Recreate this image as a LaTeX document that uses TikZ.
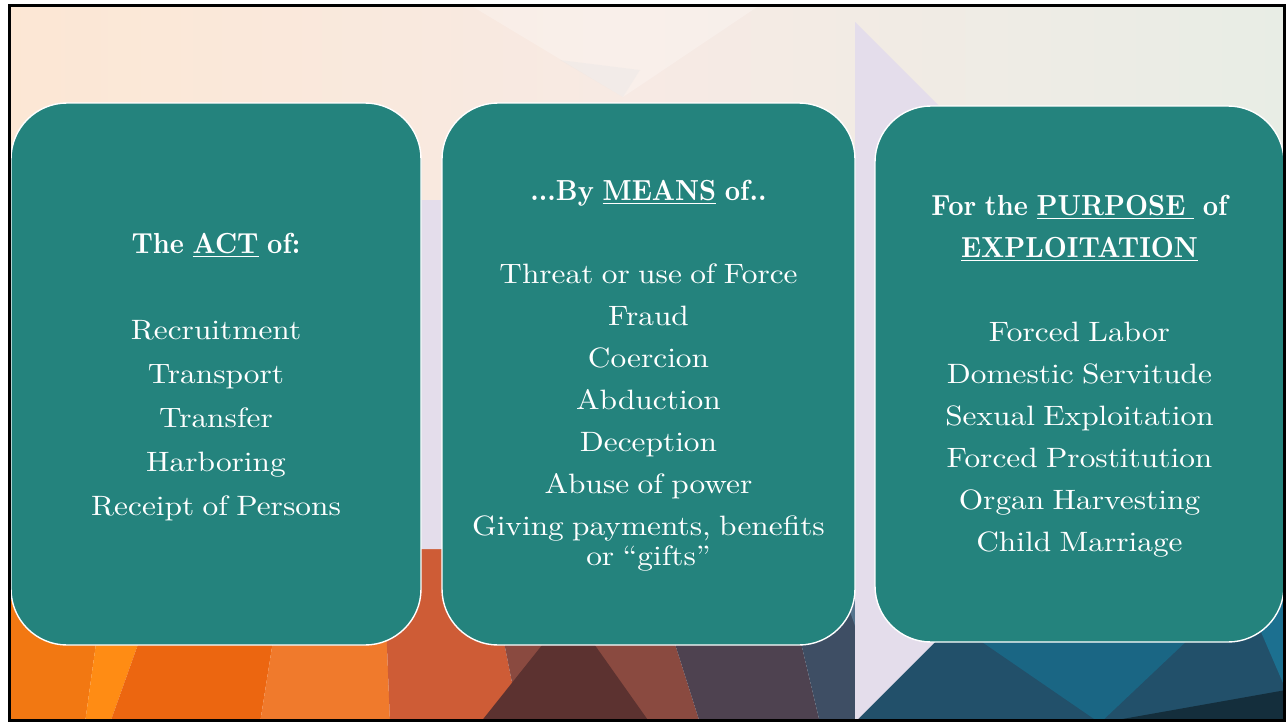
\documentclass[tikz,border=0pt]{standalone}
\usepackage{fontspec}
\newfontfamily\itemfont{lmroman10-regular.otf}[FakeStretch=1.12, WordSpace=0.8]
\newfontfamily\headfont{lmroman10-bold.otf}[FakeStretch=0.92, WordSpace=0.85]
\usetikzlibrary{positioning}

\definecolor{tealbox}{RGB}{36,131,125}
\definecolor{lavender}{RGB}{228,221,235}
\definecolor{peachA}{RGB}{252,231,212}
\definecolor{pinkA}{RGB}{247,234,228}
\definecolor{greyA}{RGB}{232,237,229}
\definecolor{orangeA}{RGB}{242,120,18}
\definecolor{orangeB}{RGB}{255,140,20}
\definecolor{orangeC}{RGB}{236,102,16}
\definecolor{orangeD}{RGB}{240,122,44}
\definecolor{rustA}{RGB}{206,92,54}
\definecolor{rustB}{RGB}{138,74,64}
\definecolor{brownA}{RGB}{92,50,48}
\definecolor{slateA}{RGB}{78,66,80}
\definecolor{slateB}{RGB}{62,78,100}
\definecolor{slateC}{RGB}{86,116,142}
\definecolor{navyA}{RGB}{34,80,106}
\definecolor{navyB}{RGB}{26,102,132}
\definecolor{navyC}{RGB}{20,46,60}
\definecolor{navyD}{RGB}{28,112,144}

\newcommand\uword[1]{\setbox0=\hbox{#1}\rlap{\rule[-4pt]{\wd0}{1.5pt}}\box0\relax}

\tikzset{
  stagebox/.style={draw=white, line width=1.4pt, fill=tealbox, rounded corners=56pt, inner sep=0pt},
  headtext/.style={text=white, anchor=base, inner sep=0pt, font=\headfont\fontsize{29}{34}\selectfont},
  itemtext/.style={text=white, anchor=base, inner sep=0pt, font=\itemfont\fontsize{28}{34}\selectfont},
}

\begin{document}
\begin{tikzpicture}[x=1pt, y=-1pt]
  \useasboundingbox (0,0) rectangle (1286,723);
  \fill[white] (0,0) rectangle (1286,723);

  % background
  \begin{scope}
    \clip (9.5,5.5) rectangle (1284.5,720.5);
    \shade[left color=peachA, right color=greyA, middle color=pinkA] (0,0) rectangle (1286,480);
    \fill[white, opacity=0.25] (470,5) -- (623,97) -- (760,5) -- cycle;
    \fill[black!10, opacity=0.3] (560,60) -- (623,97) -- (640,70) -- cycle;
    \fill[orangeA] (0,470) -- (120,470) -- (85,723) -- (0,723) -- cycle;
    \fill[orangeB] (120,470) -- (200,470) -- (110,723) -- (85,723) -- cycle;
    \fill[orangeC] (200,470) -- (300,470) -- (260,723) -- (110,723) -- cycle;
    \fill[orangeD] (300,470) -- (380,470) -- (390,723) -- (260,723) -- cycle;
    \fill[rustA] (380,470) -- (470,470) -- (520,723) -- (390,723) -- cycle;
    \fill[rustB] (470,470) -- (620,470) -- (700,723) -- (520,723) -- cycle;
    \fill[brownA] (570,610) -- (650,723) -- (480,723) -- cycle;
    \fill[slateA] (620,470) -- (760,470) -- (820,723) -- (700,723) -- cycle;
    \fill[slateB] (760,470) -- (860,470) -- (860,723) -- (820,723) -- cycle;
    \fill[slateC] (800,470) -- (860,470) -- (860,640) -- cycle;
    \fill[navyA] (860,470) -- (1286,470) -- (1286,723) -- (860,723) -- cycle;
    \fill[navyB] (950,620) -- (1230,600) -- (1100,723) -- cycle;
    \fill[navyD] (1230,560) -- (1286,560) -- (1286,690) -- cycle;
    \fill[navyC] (1100,723) -- (1286,690) -- (1286,723) -- cycle;
    % arrow behind the boxes
    \fill[lavender] (11,200) -- (855,200) -- (855,22) -- (1205,372) -- (855,722)
      -- (855,549) -- (11,549) -- cycle;
  \end{scope}

  % boxes
  \node[stagebox, minimum width=410pt, minimum height=542pt] (act) at (216,374) {};
  \node[stagebox, minimum width=413pt, minimum height=542pt] (means) at (648.5,374) {};
  \node[stagebox, minimum width=409pt, minimum height=536pt] (purpose) at (1079.5,374) {};

  % headings
  \node[headtext] (acthead) at (216,253) {The \uword{ACT} of:};
  \node[headtext] (meanshead) at (648.5,200) {...By \uword{MEANS} of..};
  \node[headtext] (purposehead) at (1079.5,215) {For the \uword{PURPOSE\ } of};
  \node[headtext] (exploithead) at (1079.5,257) {\uword{EXPLOITATION}};

  % items
  \foreach \txt [count=\i from 0] in {Recruitment, Transport, Transfer, Harboring, Receipt of Persons}
    \node[itemtext] (act\i) at (216,{339+44*\i}) {\txt};
  \foreach \txt [count=\i from 0] in {Threat or use of Force, Fraud, Coercion, Abduction,
      Deception, Abuse of power, {Giving payments, benefits}}
    \node[itemtext] (means\i) at (648.5,{283+42*\i}) {\txt};
  \node[itemtext] (meansgifts) at (648.5,565) {or “gifts”};
  \foreach \txt [count=\i from 0] in {Forced Labor, Domestic Servitude, Sexual Exploitation,
      Forced Prostitution, Organ Harvesting, Child Marriage}
    \node[itemtext] (purpose\i) at (1079.5,{341+42*\i}) {\txt};

  % frame
  \draw[black, line width=2.2pt] (9.5,5.5) rectangle (1284.5,720.5);
\end{tikzpicture}
\end{document}
